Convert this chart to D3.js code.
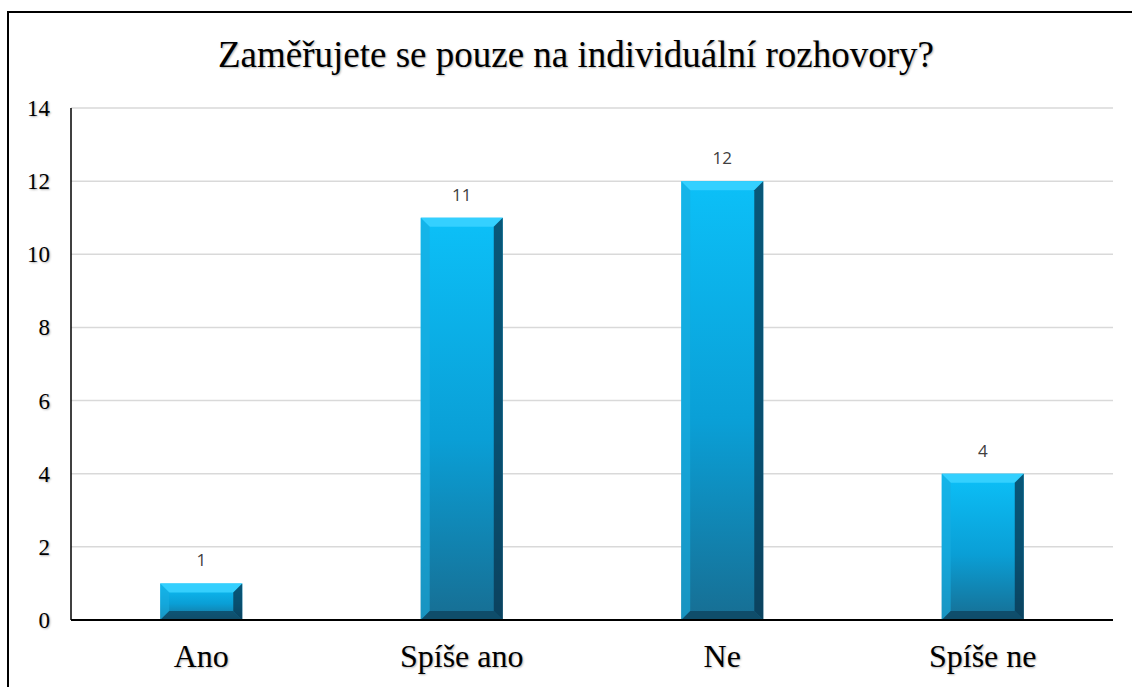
<!DOCTYPE html>
<html>
<head>
<meta charset="utf-8">
<script src="https://cdn.jsdelivr.net/npm/d3@7"></script>
<style>
  body { margin: 0; background: #fff; }
</style>
</head>
<body>
<svg width="1132" height="687"></svg>
<script>
var categories = ["Ano", "Spíše ano", "Ne", "Spíše ne"];
var values = [1, 11, 12, 4];
var yTicks = [0, 2, 4, 6, 8, 10, 12, 14];
var title = "Zaměřujete se pouze na individuální rozhovory?";

var serif = "\"Liberation Serif\", \"Times New Roman\", serif";
var shadow = "1px 1px 2px rgba(0,0,0,0.3)";

var svg = d3.select("svg");
var margin = { left: 71, right: 1113, top: 108, bottom: 620 };

// outer frame
svg.append("rect")
    .attr("x", 8).attr("y", 12)
    .attr("width", 1200).attr("height", 800)
    .attr("fill", "none").attr("stroke", "#000").attr("stroke-width", 2);

var x = d3.scaleBand().domain(categories).range([margin.left, margin.right]).paddingInner(0.685).paddingOuter(0.3425);
var y = d3.scaleLinear().domain([0, 14]).range([margin.bottom, margin.top]);

// gridlines
svg.append("g").selectAll("line")
    .data(yTicks.filter(function (d) { return d > 0; }))
    .enter().append("line")
    .attr("x1", margin.left).attr("x2", margin.right)
    .attr("y1", function (d) { return y(d); }).attr("y2", function (d) { return y(d); })
    .attr("stroke", "#d9d9d9").attr("stroke-width", 1.5);

// y tick labels
svg.append("g").selectAll("text")
    .data(yTicks)
    .enter().append("text")
    .attr("x", 50)
    .attr("y", function (d) { return y(d); })
    .attr("dy", "0.35em")
    .attr("text-anchor", "end")
    .style("font-family", serif)
    .style("font-size", "23px")
    .style("text-shadow", shadow)
    .text(function (d) { return d; });

// gradients
var defs = svg.append("defs");
var face = defs.append("linearGradient").attr("id", "face").attr("x1", 0).attr("y1", 0).attr("x2", 0).attr("y2", 1);
face.append("stop").attr("offset", "0%").attr("stop-color", "#0cc0f8");
face.append("stop").attr("offset", "55%").attr("stop-color", "#0a9fd6");
face.append("stop").attr("offset", "100%").attr("stop-color", "#176e93");

var bev = 9;
var bars = svg.append("g").selectAll("g")
    .data(values)
    .enter().append("g");

bars.each(function (d, i) {
    var g = d3.select(this);
    var x0 = x(categories[i]), w = x.bandwidth();
    var y0 = y(d), y1 = y(0);
    var b = Math.min(bev, (y1 - y0) / 2);
    g.append("rect").attr("x", x0).attr("y", y0).attr("width", w).attr("height", y1 - y0).attr("fill", "url(#face)");
    // top bevel
    g.append("polygon")
        .attr("points", [[x0, y0], [x0 + w, y0], [x0 + w - b, y0 + b], [x0 + b, y0 + b]].join(" "))
        .attr("fill", "#39d2ff").attr("opacity", 0.9);
    // left bevel
    g.append("polygon")
        .attr("points", [[x0, y0], [x0 + b, y0 + b], [x0 + b, y1 - b], [x0, y1]].join(" "))
        .attr("fill", "#1aaee0").attr("opacity", 0.6);
    // right bevel
    g.append("polygon")
        .attr("points", [[x0 + w, y0], [x0 + w, y1], [x0 + w - b, y1 - b], [x0 + w - b, y0 + b]].join(" "))
        .attr("fill", "#08344d").attr("opacity", 0.75);
    // bottom bevel
    g.append("polygon")
        .attr("points", [[x0, y1], [x0 + b, y1 - b], [x0 + w - b, y1 - b], [x0 + w, y1]].join(" "))
        .attr("fill", "#0d3f58").attr("opacity", 0.7);
});

// data labels
svg.append("g").selectAll("text")
    .data(values)
    .enter().append("text")
    .attr("x", function (d, i) { return x(categories[i]) + x.bandwidth() / 2; })
    .attr("y", function (d) { return y(d) - 17; })
    .attr("text-anchor", "middle")
    .style("font-family", "\"Open Sans\", \"Liberation Sans\", sans-serif")
    .style("font-size", "17px")
    .attr("fill", "#404040")
    .text(function (d) { return d; });

// axes lines
svg.append("line").attr("x1", margin.left).attr("x2", margin.left).attr("y1", margin.top).attr("y2", margin.bottom)
    .attr("stroke", "#000").attr("stroke-width", 1.5);
svg.append("line").attr("x1", margin.left).attr("x2", margin.right).attr("y1", margin.bottom).attr("y2", margin.bottom)
    .attr("stroke", "#000").attr("stroke-width", 2);

// category labels
svg.append("g").selectAll("text")
    .data(categories)
    .enter().append("text")
    .attr("x", function (d) { return x(d) + x.bandwidth() / 2; })
    .attr("y", 667)
    .attr("text-anchor", "middle")
    .style("font-family", serif)
    .style("font-size", "32px")
    .style("text-shadow", shadow)
    .text(function (d) { return d; });

// title
svg.append("text")
    .attr("x", 576)
    .attr("y", 67)
    .attr("text-anchor", "middle")
    .style("font-family", serif)
    .style("font-size", "37px")
    .style("text-shadow", shadow)
    .text(title);
</script>
</body>
</html>
